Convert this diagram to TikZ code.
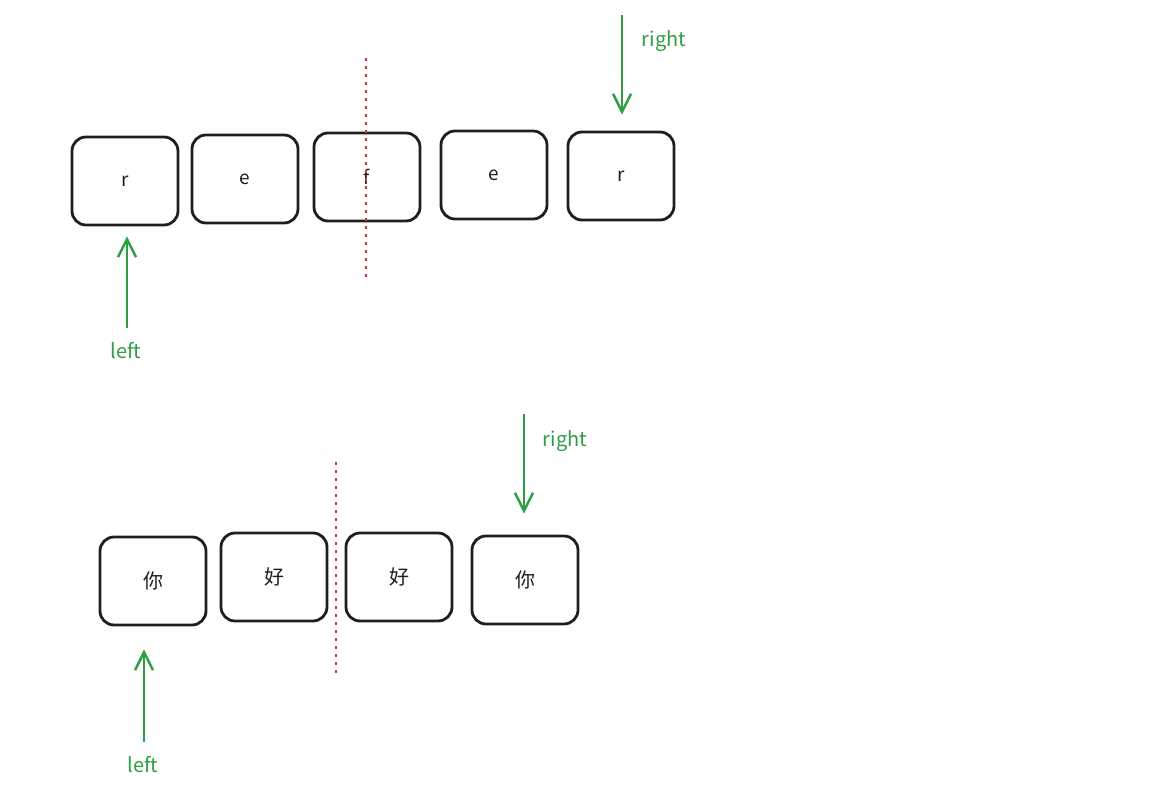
\documentclass[tikz,border=0pt]{standalone}
\usepackage{fontspec}
\setmainfont{Noto Sans CJK SC}
\usetikzlibrary{arrows.meta}
\definecolor{exgreen}{HTML}{2F9E44}
\definecolor{exred}{HTML}{E03131}
\definecolor{exblack}{HTML}{1E1E1E}
\tikzset{
  cell/.style={draw=exblack, line width=2.8pt, rounded corners=14pt, minimum width=106pt, minimum height=88pt, inner sep=0pt, font=\fontsize{19}{19}\selectfont, text=exblack},
  cjkcell/.style={cell, font=\fontsize{20}{20}\selectfont},
  pointer/.style={draw=exgreen, line width=2.5pt, -{Straight Barb[length=18pt, width=18pt, line width=2.5pt]}},
  lbl/.style={text=exgreen, font=\fontsize{20}{20}\selectfont, inner sep=0pt},
  split/.style={draw=exred, line width=2.6pt, dash pattern=on 3pt off 5pt}
}
\begin{document}
\begin{tikzpicture}[x=1pt, y=-1pt]
\useasboundingbox (0,0) rectangle (1151,800);
% top row
\node[cell] (a1) at (125,181) {r};
\node[cell] (a2) at (245,179) {e};
\node[cell] (a3) at (367,177) {f};
\node[cell] (a4) at (494,175) {e};
\node[cell] (a5) at (621,176) {r};
\coordinate (ds1) at (366,58);
\coordinate (de1) at (366,280);
\draw[split] (ds1) -- (de1);
\coordinate (rs1) at (622,15);
\draw[pointer] (rs1) -- ([yshift=16pt]a5.north -| rs1);
\node[lbl] (rl1) at (664,41) {right};
\coordinate (ls1) at (127,328);
\draw[pointer] (ls1) -- ([yshift=-10pt]a1.south -| ls1);
\node[lbl] (ll1) at (126,351) {left};
% bottom row
\node[cjkcell] (b1) at (153,581) {你};
\node[cjkcell] (b2) at (274,577) {好};
\node[cjkcell] (b3) at (399,577) {好};
\node[cjkcell] (b4) at (525,580) {你};
\coordinate (ds2) at (336,462);
\coordinate (de2) at (336,675);
\draw[split] (ds2) -- (de2);
\coordinate (rs2) at (524,414);
\draw[pointer] (rs2) -- ([yshift=21pt]b4.north -| rs2);
\node[lbl] (rl2) at (565,441) {right};
\coordinate (ls2) at (144,742);
\draw[pointer] (ls2) -- ([yshift=-23pt]b1.south -| ls2);
\node[lbl] (ll2) at (143,765) {left};
\end{tikzpicture}
\end{document}
